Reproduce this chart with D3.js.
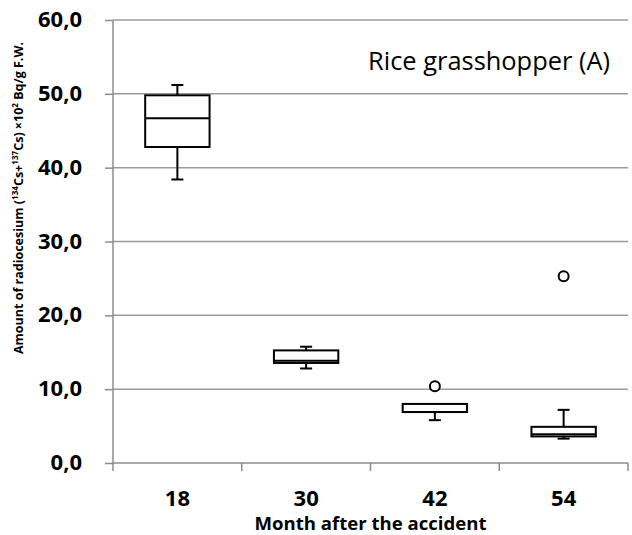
<!DOCTYPE html>
<html>
<head>
<meta charset="utf-8">
<script src="https://cdn.jsdelivr.net/npm/d3@7"></script>
<style>
  body { margin: 0; background: #fff; }
  svg { display: block; }
  text { font-family: "Open Sans", Lato, "Liberation Sans", sans-serif; }
</style>
</head>
<body>
<svg id="chart" width="632" height="535"></svg>
<script>
const categories = ["18", "30", "42", "54"];
const whiskerLow  = [38.4, 12.8, 5.8, 3.3];
const q1          = [42.8, 13.55, 6.9, 3.6];
const median      = [46.7, 13.85, 6.9, 3.9];
const q3          = [49.8, 15.25, 8.0, 4.9];
const whiskerHigh = [51.2, 15.75, 8.0, 7.2];
const outliers    = [[], [], [10.4], [25.3]];
const yTicks      = [0, 10, 20, 30, 40, 50, 60];

(function () {
const svg = d3.select("#chart");
const pLeft = 113, pRight = 628, pTop = 20, pBottom = 463;
const axisColor = "#8c8c8c";

const x = d3.scaleBand().domain(categories).range([pLeft, pRight]).padding(0);
const y = d3.scaleLinear().domain([0, 60]).range([pBottom, pTop]);
const fmt = v => d3.format(".1f")(v).replace(".", ",");

function fit(sel, target) {
  const node = sel.node();
  const w = node.getComputedTextLength();
  const fs = parseFloat(sel.attr("font-size"));
  if (w > 0) sel.attr("font-size", (fs * target / w).toFixed(2));
}

// gridlines
svg.append("g").selectAll("line").data(yTicks.filter(d => d > 0)).join("line")
  .attr("x1", pLeft).attr("x2", pRight)
  .attr("y1", d => y(d)).attr("y2", d => y(d))
  .attr("stroke", "#9a9a9a").attr("stroke-width", 1.5);

// y axis
const yAxis = svg.append("g").attr("transform", `translate(${pLeft},0)`)
  .call(d3.axisLeft(y).tickValues(yTicks).tickFormat(fmt).tickSize(8).tickPadding(23));
yAxis.select(".domain").attr("stroke", axisColor).attr("stroke-width", 1.5).attr("d", `M0,${pTop}V${pBottom}`);
yAxis.selectAll(".tick line").attr("stroke", axisColor).attr("stroke-width", 1.5);
yAxis.selectAll(".tick text").attr("font-size", 22).attr("font-weight", "bold").attr("fill", "#000")
  .attr("dy", "0.3em");

// x axis
const xAxis = svg.append("g").attr("transform", `translate(0,${pBottom})`)
  .call(d3.axisBottom(x).tickSize(0).tickPadding(27));
xAxis.select(".domain").attr("stroke", axisColor).attr("stroke-width", 1.5).attr("d", `M${pLeft},0H${pRight}`);
xAxis.selectAll(".tick text").attr("font-size", 22).attr("font-weight", "bold").attr("fill", "#000")
  .attr("y", 0).attr("dy", 0).attr("transform", "translate(0,43)");
const bounds = categories.map(c => x(c)).concat([x(categories[categories.length - 1]) + x.bandwidth()]);
xAxis.selectAll(".bound").data(bounds).join("line").attr("class", "bound")
  .attr("x1", d => d).attr("x2", d => d).attr("y1", 0).attr("y2", 8)
  .attr("stroke", axisColor).attr("stroke-width", 1.5);

// boxes
const bw = x.bandwidth() * 0.5;
const cap = 12;
const g = svg.append("g").attr("stroke", "#000").attr("stroke-width", 2).attr("fill", "none");
categories.forEach((c, i) => {
  const cx = x(c) + x.bandwidth() / 2;
  if (whiskerHigh[i] > q3[i]) {
    g.append("line").attr("x1", cx).attr("x2", cx).attr("y1", y(q3[i])).attr("y2", y(whiskerHigh[i]));
    g.append("line").attr("x1", cx - cap / 2).attr("x2", cx + cap / 2).attr("y1", y(whiskerHigh[i])).attr("y2", y(whiskerHigh[i]));
  }
  if (whiskerLow[i] < q1[i]) {
    g.append("line").attr("x1", cx).attr("x2", cx).attr("y1", y(q1[i])).attr("y2", y(whiskerLow[i]));
    g.append("line").attr("x1", cx - cap / 2).attr("x2", cx + cap / 2).attr("y1", y(whiskerLow[i])).attr("y2", y(whiskerLow[i]));
  }
  g.append("rect").attr("x", cx - bw / 2).attr("width", bw)
    .attr("y", y(q3[i])).attr("height", y(q1[i]) - y(q3[i])).attr("fill", "#fff");
  g.append("line").attr("x1", cx - bw / 2).attr("x2", cx + bw / 2).attr("y1", y(median[i])).attr("y2", y(median[i]));
  outliers[i].forEach(v => {
    g.append("circle").attr("cx", cx).attr("cy", y(v)).attr("r", 5).attr("fill", "#fff");
  });
});

// chart label
const lbl = svg.append("text").attr("x", 610).attr("y", 70).attr("text-anchor", "end")
  .attr("font-size", 22).attr("fill", "#000").text("Rice grasshopper (A)");
fit(lbl, 242);

// x title
const xt = svg.append("text").attr("x", (pLeft + pRight) / 2).attr("y", 530).attr("text-anchor", "middle")
  .attr("font-size", 16).attr("font-weight", "bold").attr("fill", "#000").text("Month after the accident");
fit(xt, 232);

// y title
const yt = svg.append("text").attr("transform", "translate(23,198) rotate(-90)")
  .attr("text-anchor", "middle").attr("font-size", 13).attr("font-weight", "bold").attr("fill", "#000");
const parts = [
  ["Amount of radiocesium (", false], ["134", true], ["Cs+", false], ["137", true],
  ["Cs) ×10", false], ["2", true], [" Bq/g F.W.", false]
];
const sups = [];
parts.forEach(([t, sup]) => {
  const ts = yt.append("tspan").text(t);
  if (sup) { ts.attr("baseline-shift", "super"); sups.push(ts); }
});
const yw = yt.node().getComputedTextLength();
const yfs = 13 * 330 / yw;
yt.attr("font-size", yfs.toFixed(2));
sups.forEach(s => s.attr("font-size", (yfs * 0.65).toFixed(2)));
})();
</script>
</body>
</html>
